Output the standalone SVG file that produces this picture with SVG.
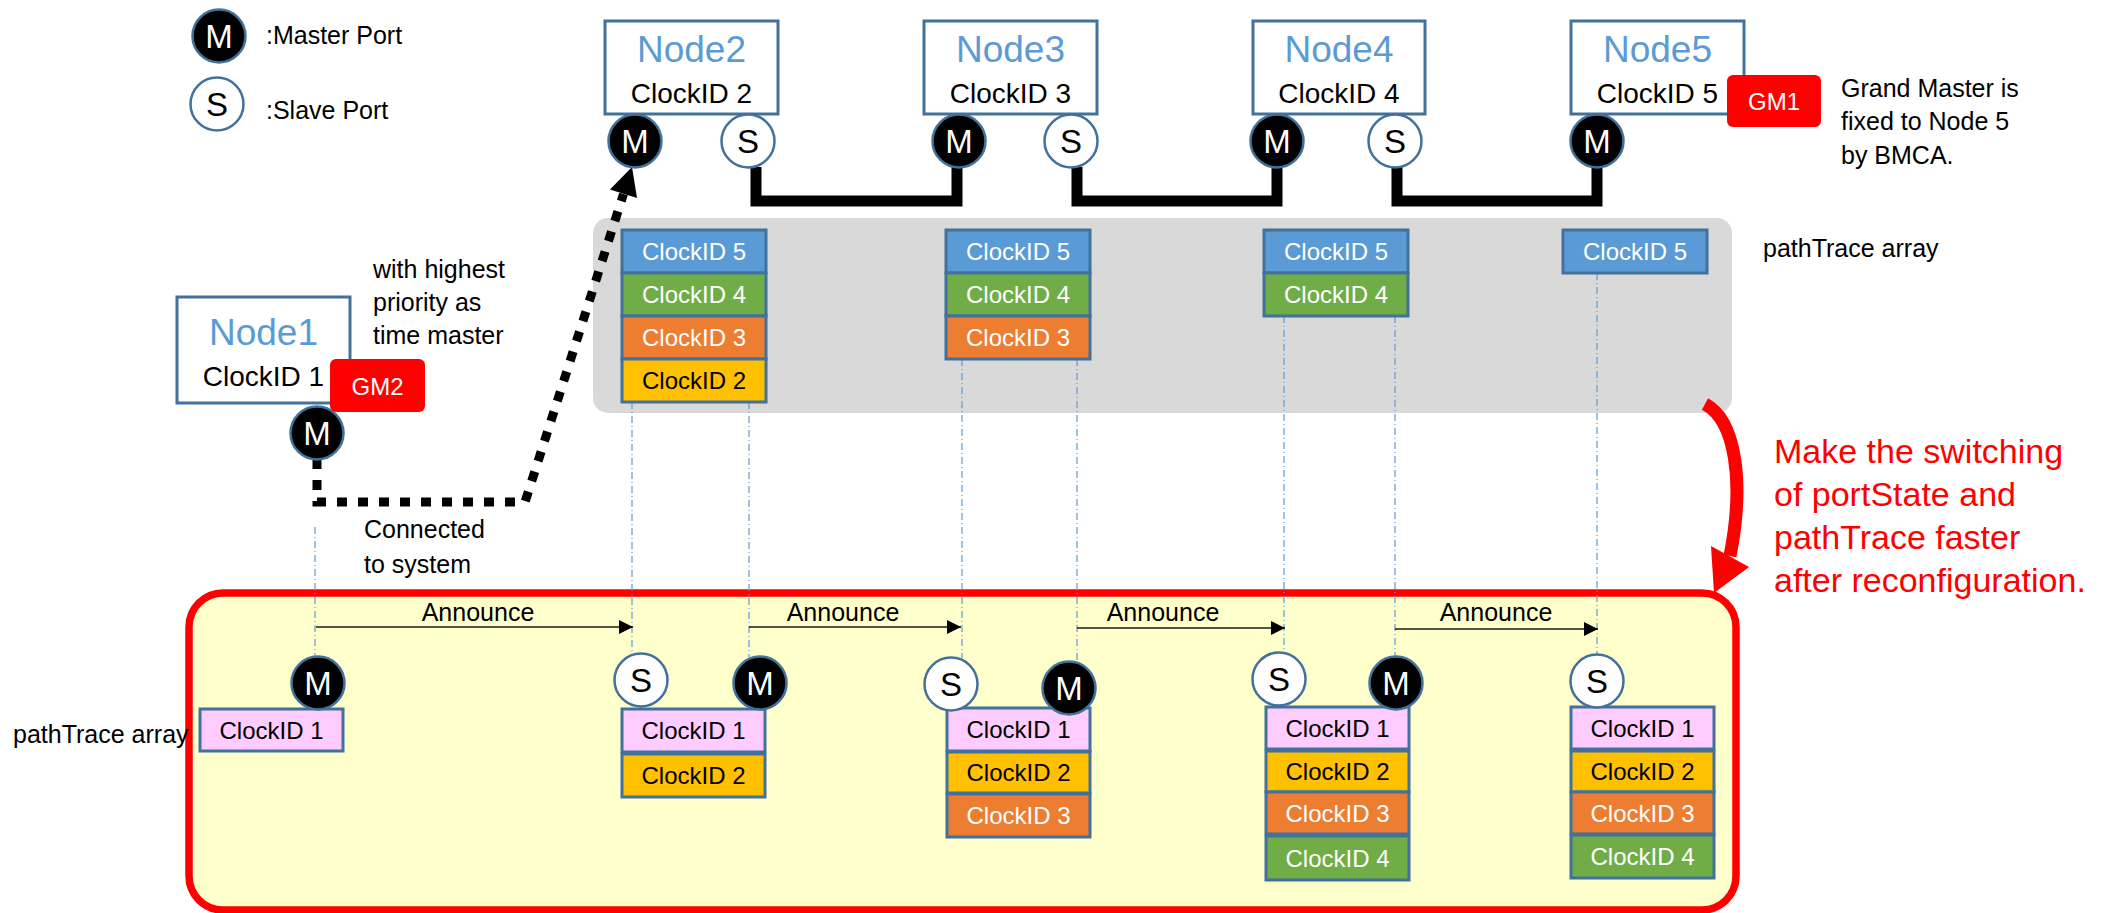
<svg xmlns="http://www.w3.org/2000/svg" width="2107" height="913" viewBox="0 0 2107 913">
<defs>
<style>
text{font-family:"Liberation Sans",Arial,sans-serif}
.box{fill:#fff;stroke:#41719C;stroke-width:3}
.nn{font-size:37px;fill:#5B9BD5;text-anchor:middle}
.nc{font-size:28px;fill:#000;text-anchor:middle}
.pm{fill:#000;stroke:#41719C;stroke-width:2.5}
.ps{fill:#fff;stroke:#41719C;stroke-width:2.5}
.ptm{font-size:33px;fill:#fff;text-anchor:middle}
.pts{font-size:33px;fill:#000;text-anchor:middle}
.cell{stroke:#41719C;stroke-width:3}
.c1{fill:#FFCCFF}.c2{fill:#FFC000}.c3{fill:#ED7D31}.c4{fill:#70AD47}.c5{fill:#5B9BD5}
.ct{font-size:24px;text-anchor:middle}
.w{fill:#fff}.k{fill:#000}
.lbl{font-size:25px;fill:#000}
.gm{fill:#FF0000}
.gmt{font-size:24px;fill:#fff;text-anchor:middle}
.dd{stroke:#5B9BD5;stroke-width:1.2;stroke-dasharray:7 3 1 3;fill:none}
.ann{stroke:#1a1a1a;stroke-width:1.6;fill:none;marker-end:url(#ah)}
.annt{font-size:25px;fill:#000;text-anchor:middle}
.link{stroke:#000;stroke-width:11;fill:none}
</style>
<marker id="ah" markerWidth="14" markerHeight="14" refX="14" refY="7" orient="auto" markerUnits="userSpaceOnUse"><path d="M0,0 L14,7 L0,14 z" fill="#000"/></marker>
</defs>

<!-- background panels -->
<rect id="pathTracePanel" x="593" y="218" width="1139" height="195" rx="15" fill="#D9D9D9"/>
<rect id="reconfPanel" x="189" y="593" width="1547" height="317" rx="34" fill="#FFFFCC" stroke="#FF0000" stroke-width="7.5"/>

<!-- connectors -->
<g id="connectors">
  <path class="link" d="M756,167 V201 H957 V167"/>
  <path class="link" d="M1077,167 V201 H1277 V167"/>
  <path class="link" d="M1397,167 V201 H1597 V167"/>
  <path d="M317,459 V502 H525 L623.5,194" fill="none" stroke="#000" stroke-width="9" stroke-dasharray="10 11"/>
  <polygon points="632,167 610,189.5 637,198" fill="#000"/>
  <line class="dd" x1="315" y1="527" x2="315" y2="657"/>
  <line class="dd" x1="632" y1="402" x2="632" y2="653"/>
  <line class="dd" x1="749" y1="402" x2="749" y2="657"/>
  <line class="dd" x1="962" y1="359" x2="962" y2="658"/>
  <line class="dd" x1="1077" y1="359" x2="1077" y2="662"/>
  <line class="dd" x1="1284" y1="316" x2="1284" y2="653"/>
  <line class="dd" x1="1395" y1="316" x2="1395" y2="657"/>
  <line class="dd" x1="1597" y1="273" x2="1597" y2="655"/>
  <line class="ann" x1="316" y1="627" x2="633" y2="627"/>
  <line class="ann" x1="749" y1="627" x2="961" y2="627"/>
  <line class="ann" x1="1077" y1="628" x2="1285" y2="628"/>
  <line class="ann" x1="1395" y1="629" x2="1598" y2="629"/>
  <text class="annt" x="478" y="621">Announce</text>
  <text class="annt" x="843" y="621">Announce</text>
  <text class="annt" x="1163" y="621">Announce</text>
  <text class="annt" x="1496" y="621">Announce</text>
  <path d="M1705,404 C1735,420 1745,480 1730,556" fill="none" stroke="#FF0000" stroke-width="13"/>
  <polygon points="1711,546 1749,567 1714,593" fill="#FF0000"/>
</g>

<!-- legend -->
<g id="legend">
  <circle class="pm" cx="219" cy="36" r="26.5"/><text class="ptm" x="219" y="48">M</text>
  <circle class="ps" cx="217" cy="104" r="26.5"/><text class="pts" x="217" y="116">S</text>
  <text class="lbl" x="266" y="44">:Master Port</text>
  <text class="lbl" x="266" y="119">:Slave Port</text>
</g>

<!-- top nodes -->
<g id="node1">
  <rect class="box" x="177" y="297" width="173" height="106"/>
  <text class="nn" x="263.5" y="345">Node1</text>
  <text class="nc" x="263.5" y="386">ClockID 1</text>
  <circle class="pm" cx="317" cy="433" r="26.5"/><text class="ptm" x="317" y="445">M</text>
  <rect class="gm" x="330" y="359" width="95" height="53" rx="6"/>
  <text class="gmt" x="377.5" y="395">GM2</text>
</g>
<g id="node2">
  <rect class="box" x="605" y="21" width="173" height="93"/>
  <text class="nn" x="691.5" y="62">Node2</text>
  <text class="nc" x="691.5" y="103">ClockID 2</text>
  <circle class="pm" cx="635" cy="141" r="26.5"/><text class="ptm" x="635" y="153">M</text>
  <circle class="ps" cx="748" cy="141" r="26.5"/><text class="pts" x="748" y="153">S</text>
</g>
<g id="node3">
  <rect class="box" x="924" y="21" width="173" height="93"/>
  <text class="nn" x="1010.5" y="62">Node3</text>
  <text class="nc" x="1010.5" y="103">ClockID 3</text>
  <circle class="pm" cx="959" cy="141" r="26.5"/><text class="ptm" x="959" y="153">M</text>
  <circle class="ps" cx="1071" cy="141" r="26.5"/><text class="pts" x="1071" y="153">S</text>
</g>
<g id="node4">
  <rect class="box" x="1253" y="21" width="172" height="93"/>
  <text class="nn" x="1339" y="62">Node4</text>
  <text class="nc" x="1339" y="103">ClockID 4</text>
  <circle class="pm" cx="1277" cy="141" r="26.5"/><text class="ptm" x="1277" y="153">M</text>
  <circle class="ps" cx="1395" cy="141" r="26.5"/><text class="pts" x="1395" y="153">S</text>
</g>
<g id="node5">
  <rect class="box" x="1571" y="21" width="173" height="93"/>
  <text class="nn" x="1657.5" y="62">Node5</text>
  <text class="nc" x="1657.5" y="103">ClockID 5</text>
  <circle class="pm" cx="1597" cy="141" r="26.5"/><text class="ptm" x="1597" y="153">M</text>
  <rect class="gm" x="1727" y="75" width="94" height="52" rx="6"/>
  <text class="gmt" x="1774" y="110">GM1</text>
</g>

<!-- annotations -->
<g id="notes">
  <text class="lbl" x="1841" y="97">Grand Master is</text>
  <text class="lbl" x="1841" y="130">fixed to Node 5</text>
  <text class="lbl" x="1841" y="164">by BMCA.</text>
  <text class="lbl" x="373" y="278">with highest</text>
  <text class="lbl" x="373" y="311">priority as</text>
  <text class="lbl" x="373" y="344">time master</text>
  <text class="lbl" x="364" y="538">Connected</text>
  <text class="lbl" x="364" y="573">to system</text>
  <text class="lbl" x="1763" y="257">pathTrace array</text>
  <text class="lbl" x="13" y="743">pathTrace array</text>
  <g font-size="34" fill="#FF0000">
    <text x="1774" y="463">Make the switching</text>
    <text x="1774" y="506">of portState and</text>
    <text x="1774" y="549">pathTrace faster</text>
    <text x="1774" y="592">after reconfiguration.</text>
  </g>
</g>

<!-- pathTrace arrays (before) -->
<g id="pt-node2">
  <rect class="cell c5" x="622" y="230" width="144" height="43"/><text class="ct w" x="694" y="260">ClockID 5</text>
  <rect class="cell c4" x="622" y="273" width="144" height="43"/><text class="ct w" x="694" y="303">ClockID 4</text>
  <rect class="cell c3" x="622" y="316" width="144" height="43"/><text class="ct w" x="694" y="346">ClockID 3</text>
  <rect class="cell c2" x="622" y="359" width="144" height="43"/><text class="ct k" x="694" y="389">ClockID 2</text>
</g>
<g id="pt-node3">
  <rect class="cell c5" x="946" y="230" width="144" height="43"/><text class="ct w" x="1018" y="260">ClockID 5</text>
  <rect class="cell c4" x="946" y="273" width="144" height="43"/><text class="ct w" x="1018" y="303">ClockID 4</text>
  <rect class="cell c3" x="946" y="316" width="144" height="43"/><text class="ct w" x="1018" y="346">ClockID 3</text>
</g>
<g id="pt-node4">
  <rect class="cell c5" x="1264" y="230" width="144" height="43"/><text class="ct w" x="1336" y="260">ClockID 5</text>
  <rect class="cell c4" x="1264" y="273" width="144" height="43"/><text class="ct w" x="1336" y="303">ClockID 4</text>
</g>
<g id="pt-node5">
  <rect class="cell c5" x="1563" y="230" width="144" height="43"/><text class="ct w" x="1635" y="260">ClockID 5</text>
</g>

<!-- after reconfiguration -->
<g id="rc-node1">
  <rect class="cell c1" x="200" y="709" width="143" height="42"/><text class="ct k" x="271.5" y="739">ClockID 1</text>
  <circle class="pm" cx="318" cy="683" r="26.5"/><text class="ptm" x="318" y="695">M</text>
</g>
<g id="rc-node2">
  <rect class="cell c1" x="622" y="709" width="143" height="43"/><text class="ct k" x="693.5" y="739">ClockID 1</text>
  <rect class="cell c2" x="622" y="754" width="143" height="43"/><text class="ct k" x="693.5" y="784">ClockID 2</text>
  <circle class="ps" cx="641" cy="680" r="26.5"/><text class="pts" x="641" y="692">S</text>
  <circle class="pm" cx="760" cy="683" r="26.5"/><text class="ptm" x="760" y="695">M</text>
</g>
<g id="rc-node3">
  <rect class="cell c1" x="947" y="708" width="143" height="43"/><text class="ct k" x="1018.5" y="738">ClockID 1</text>
  <rect class="cell c2" x="947" y="752" width="143" height="41"/><text class="ct k" x="1018.5" y="781">ClockID 2</text>
  <rect class="cell c3" x="947" y="794" width="143" height="43"/><text class="ct w" x="1018.5" y="824">ClockID 3</text>
  <circle class="ps" cx="951" cy="684" r="26.5"/><text class="pts" x="951" y="696">S</text>
  <circle class="pm" cx="1069" cy="688" r="26.5"/><text class="ptm" x="1069" y="700">M</text>
</g>
<g id="rc-node4">
  <rect class="cell c1" x="1266" y="707" width="143" height="42"/><text class="ct k" x="1337.5" y="737">ClockID 1</text>
  <rect class="cell c2" x="1266" y="751" width="143" height="41"/><text class="ct k" x="1337.5" y="780">ClockID 2</text>
  <rect class="cell c3" x="1266" y="792" width="143" height="42"/><text class="ct w" x="1337.5" y="822">ClockID 3</text>
  <rect class="cell c4" x="1266" y="836" width="143" height="44"/><text class="ct w" x="1337.5" y="867">ClockID 4</text>
  <circle class="ps" cx="1279" cy="679" r="26.5"/><text class="pts" x="1279" y="691">S</text>
  <circle class="pm" cx="1396" cy="683" r="26.5"/><text class="ptm" x="1396" y="695">M</text>
</g>
<g id="rc-node5">
  <rect class="cell c1" x="1571" y="707" width="143" height="42"/><text class="ct k" x="1642.5" y="737">ClockID 1</text>
  <rect class="cell c2" x="1571" y="751" width="143" height="41"/><text class="ct k" x="1642.5" y="780">ClockID 2</text>
  <rect class="cell c3" x="1571" y="792" width="143" height="42"/><text class="ct w" x="1642.5" y="822">ClockID 3</text>
  <rect class="cell c4" x="1571" y="835" width="143" height="43"/><text class="ct w" x="1642.5" y="865">ClockID 4</text>
  <circle class="ps" cx="1597" cy="681" r="26.5"/><text class="pts" x="1597" y="693">S</text>
</g>
</svg>
